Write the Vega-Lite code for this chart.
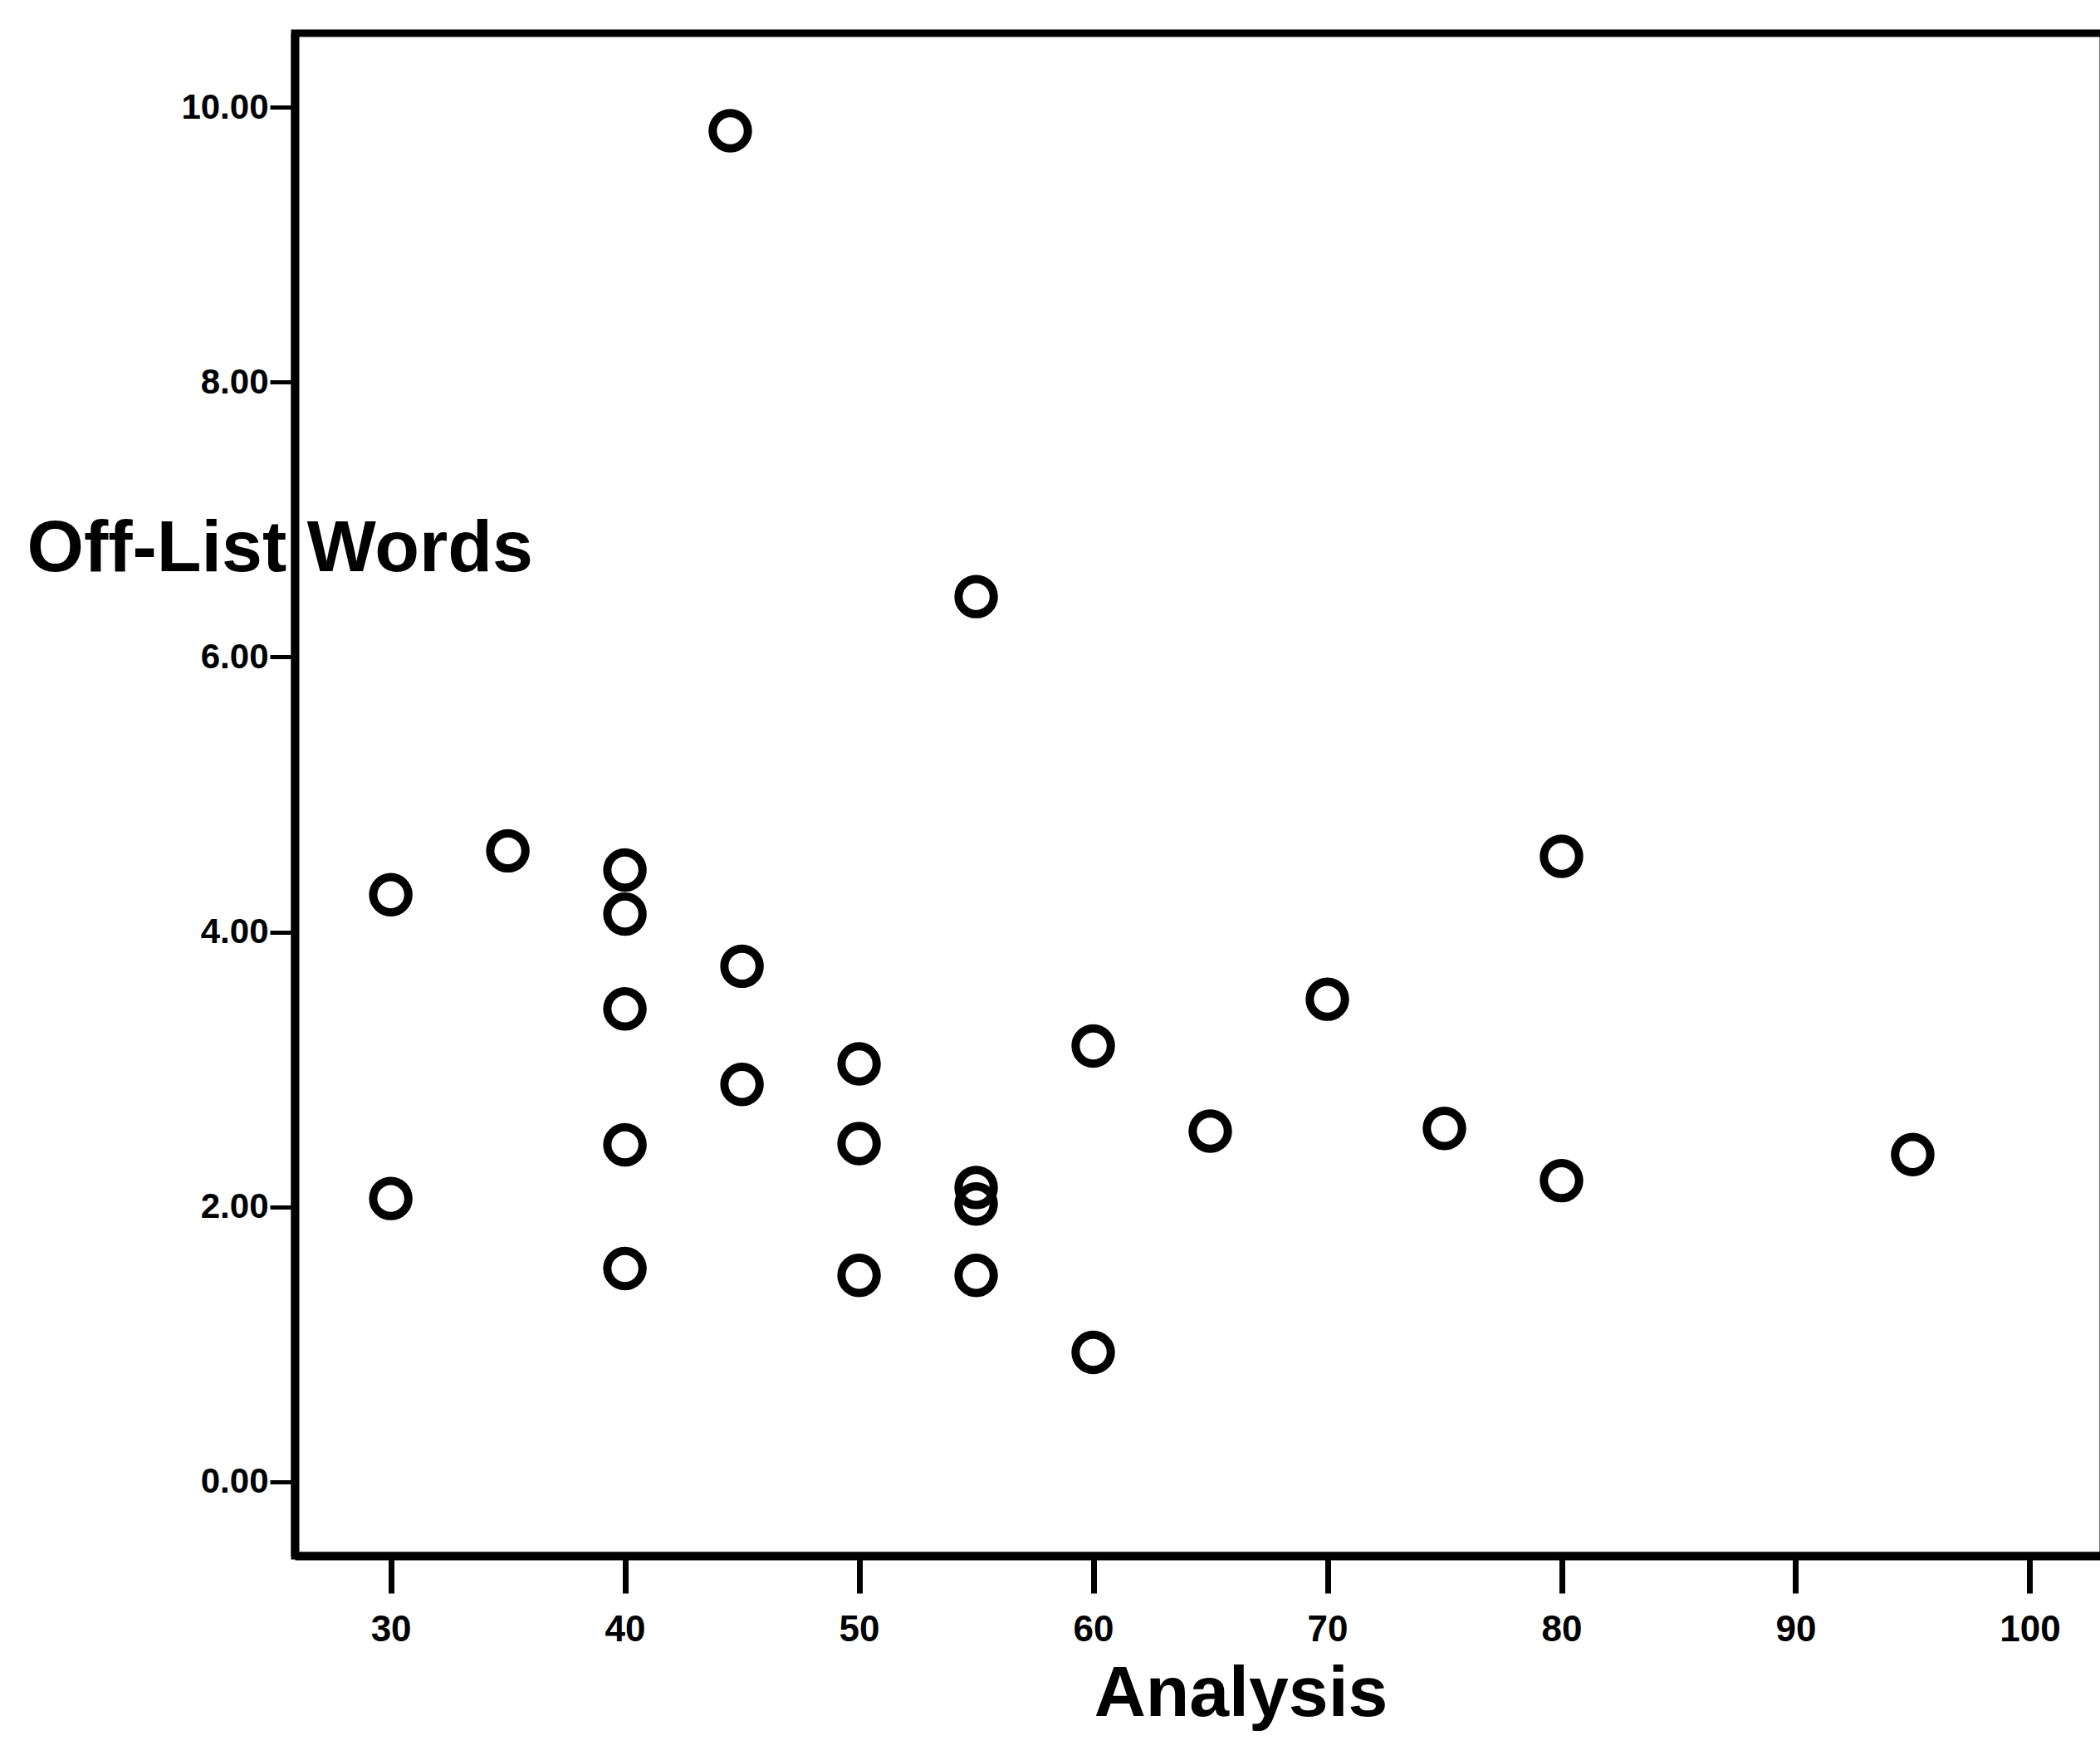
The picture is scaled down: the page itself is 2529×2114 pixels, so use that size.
{
  "$schema": "https://vega.github.io/schema/vega-lite/v6.json",
  "width": 2178,
  "height": 1834,
  "autosize": {"type": "none"},
  "padding": {"left": 355, "top": 40, "right": 0, "bottom": 240},
  "background": "white",
  "config": {
    "view": {"stroke": "black", "strokeWidth": 9},
    "font": "Liberation Sans"
  },
  "data": {
    "values": [
      {"Analysis": 44.5, "OffList": 9.83},
      {"Analysis": 55, "OffList": 6.44},
      {"Analysis": 35, "OffList": 4.59},
      {"Analysis": 30, "OffList": 4.27},
      {"Analysis": 30, "OffList": 2.06},
      {"Analysis": 40, "OffList": 4.45},
      {"Analysis": 40, "OffList": 4.13},
      {"Analysis": 40, "OffList": 3.44},
      {"Analysis": 40, "OffList": 2.45},
      {"Analysis": 40, "OffList": 1.55},
      {"Analysis": 45, "OffList": 3.75},
      {"Analysis": 45, "OffList": 2.89},
      {"Analysis": 50, "OffList": 3.04},
      {"Analysis": 50, "OffList": 2.46},
      {"Analysis": 50, "OffList": 1.5},
      {"Analysis": 55, "OffList": 2.14},
      {"Analysis": 55, "OffList": 2.02},
      {"Analysis": 55, "OffList": 1.5},
      {"Analysis": 60, "OffList": 3.17},
      {"Analysis": 60, "OffList": 0.94},
      {"Analysis": 65, "OffList": 2.55},
      {"Analysis": 70, "OffList": 3.51},
      {"Analysis": 75, "OffList": 2.57},
      {"Analysis": 80, "OffList": 4.55},
      {"Analysis": 80, "OffList": 2.19},
      {"Analysis": 95, "OffList": 2.38}
    ]
  },
  "mark": {"type": "point", "shape": "circle", "filled": false, "stroke": "black", "strokeWidth": 10, "size": 1800, "opacity": 1},
  "encoding": {
    "x": {
      "field": "Analysis",
      "type": "quantitative",
      "scale": {"domain": [25.9, 103.14], "nice": false, "zero": false},
      "axis": {
        "values": [30, 40, 50, 60, 70, 80, 90, 100],
        "grid": false,
        "domain": true,
        "domainColor": "black",
        "domainWidth": 10,
        "tickColor": "black",
        "tickWidth": 7,
        "tickSize": 45,
        "labelPadding": 22,
        "labelFont": "Liberation Sans",
        "labelFontWeight": "bold",
        "labelFontSize": 44,
        "labelColor": "black",
        "title": "Analysis",
        "titleFont": "Liberation Sans",
        "titleFontWeight": "bold",
        "titleFontSize": 86,
        "titleColor": "black",
        "titleX": 1139,
        "titleY": 166,
        "titleAlign": "center",
        "titleBaseline": "middle"
      }
    },
    "y": {
      "field": "OffList",
      "type": "quantitative",
      "scale": {"domain": [-0.54, 10.54], "nice": false, "zero": false},
      "axis": {
        "values": [0, 2, 4, 6, 8, 10],
        "format": ".2f",
        "grid": false,
        "domain": true,
        "domainColor": "black",
        "domainWidth": 10,
        "tickColor": "black",
        "tickWidth": 5,
        "tickSize": 30,
        "labelPadding": 2,
        "labelFont": "Liberation Sans",
        "labelFontWeight": "bold",
        "labelFontSize": 42,
        "labelColor": "black",
        "title": "Off-List Words",
        "titleFont": "Liberation Sans",
        "titleFontWeight": "bold",
        "titleFontSize": 88,
        "titleColor": "black",
        "titleAngle": 0,
        "titleX": -323,
        "titleY": 621,
        "titleAlign": "left",
        "titleBaseline": "middle"
      }
    }
  }
}
